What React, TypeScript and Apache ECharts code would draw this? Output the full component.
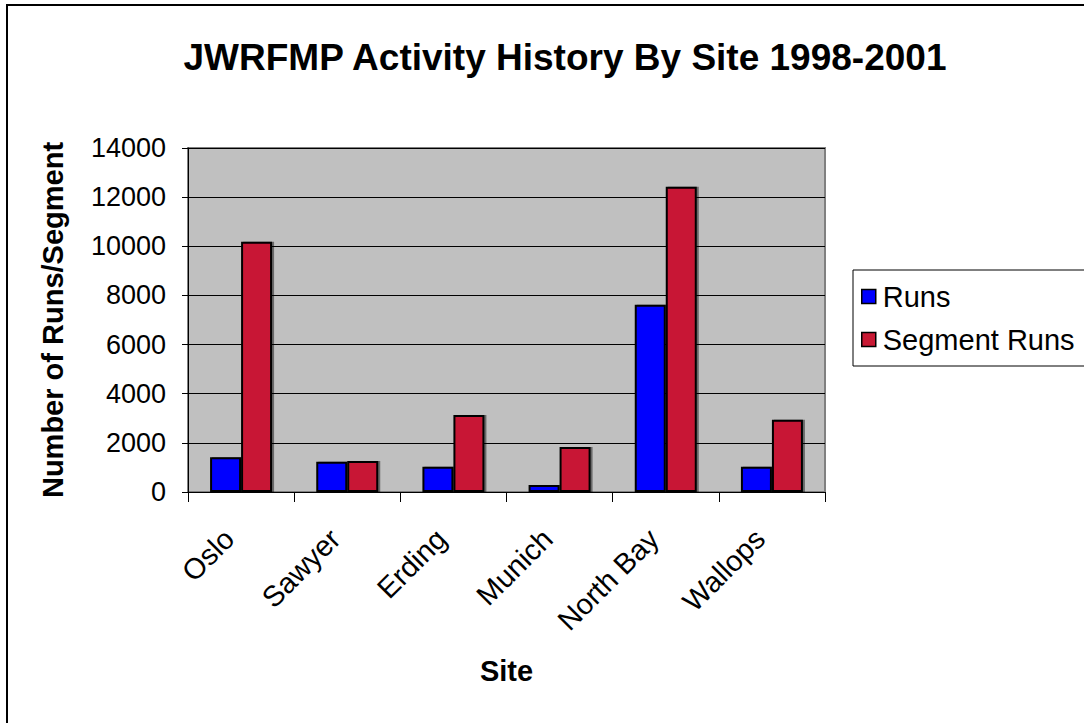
import React, { useEffect, useRef } from "react";
import * as echarts from "echarts";

const categories = ["Oslo", "Sawyer", "Erding", "Munich", "North Bay", "Wallops"];
const runs = [1410, 1230, 1030, 280, 7620, 1030];
const segmentRuns = [10180, 1260, 3130, 1830, 12420, 2940];
const yTicks = { min: 0, max: 14000, interval: 2000 };

const FONT = "'Liberation Sans', Arial, sans-serif";

export default function App() {
  const ref = useRef<HTMLDivElement>(null);
  useEffect(() => {
    document.body.style.margin = "0";
    const chart = echarts.init(ref.current!, null, { renderer: "svg" });
    chart.setOption({
      animation: false,
      backgroundColor: "#fff",
      textStyle: { fontFamily: FONT },
      title: {
        text: "JWRFMP Activity History By Site 1998-2001",
        left: 560,
        top: 34,
        textAlign: "center",
        textStyle: { fontSize: 37, fontWeight: "bold", color: "#000", fontFamily: FONT },
      },
      graphic: [
        {
          type: "rect",
          shape: { x: 7, y: 5, width: 1100, height: 800 },
          style: { fill: "none", stroke: "#000", lineWidth: 2 },
          silent: true,
        },
      ],
      legend: {
        orient: "vertical",
        left: 853,
        top: 270,
        data: ["Runs", "Segment Runs"],
        backgroundColor: "#fff",
        borderColor: "#000",
        borderWidth: 1,
        padding: [12, 60, 12, 8],
        itemWidth: 14,
        itemHeight: 14,
        itemGap: 14,
        icon: "rect",
        itemStyle: { borderColor: "#000", borderWidth: 1.5 },
        textStyle: { fontSize: 29, color: "#000", fontFamily: FONT, padding: [0, 0, 0, 2] },
      },
      grid: {
        left: 188,
        right: 259,
        top: 148,
        bottom: 231,
        show: true,
        backgroundColor: "#C0C0C0",
        borderColor: "#808080",
        borderWidth: 2,
      },
      xAxis: {
        type: "category",
        data: categories,
        name: "Site",
        nameLocation: "middle",
        nameGap: 164,
        nameTextStyle: { fontSize: 29, fontWeight: "bold", color: "#000", fontFamily: FONT },
        axisLine: { lineStyle: { color: "#000", width: 1 } },
        axisTick: { show: true, length: 10, lineStyle: { color: "#000" } },
        axisLabel: {
          rotate: 45,
          fontSize: 29,
          color: "#000",
          margin: 30,
          padding: [0, 17, 0, 0],
          fontFamily: FONT,
        },
      },
      yAxis: {
        type: "value",
        min: yTicks.min,
        max: yTicks.max,
        interval: yTicks.interval,
        name: "Number of Runs/Segment",
        nameLocation: "middle",
        nameGap: 121,
        nameTextStyle: { fontSize: 29, fontWeight: "bold", color: "#000", fontFamily: FONT },
        axisLine: { show: true, lineStyle: { color: "#000", width: 1 } },
        axisTick: { show: true, length: 6, lineStyle: { color: "#000" } },
        axisLabel: {
          fontSize: 27,
          color: "#000",
          margin: 22,
          fontFamily: FONT,
          formatter: (v: number) => String(v),
        },
        splitLine: { show: true, lineStyle: { color: "#000", width: 1 } },
      },
      series: [
        {
          name: "Runs",
          type: "bar",
          data: runs,
          barWidth: 31,
          barGap: "0%",
          itemStyle: {
            color: "#0000FF",
            borderColor: "#000",
            borderWidth: 2,
            shadowColor: "rgba(0,0,0,0.45)",
            shadowOffsetX: 2,
            shadowOffsetY: 0,
            shadowBlur: 0,
          },
        },
        {
          name: "Segment Runs",
          type: "bar",
          data: segmentRuns,
          barWidth: 31,
          barGap: "0%",
          itemStyle: {
            color: "#C81934",
            borderColor: "#000",
            borderWidth: 2,
            shadowColor: "rgba(0,0,0,0.45)",
            shadowOffsetX: 2,
            shadowOffsetY: 0,
            shadowBlur: 0,
          },
        },
      ],
    });
    return () => chart.dispose();
  }, []);
  return <div ref={ref} style={{ width: 1084, height: 723 }} />;
}
